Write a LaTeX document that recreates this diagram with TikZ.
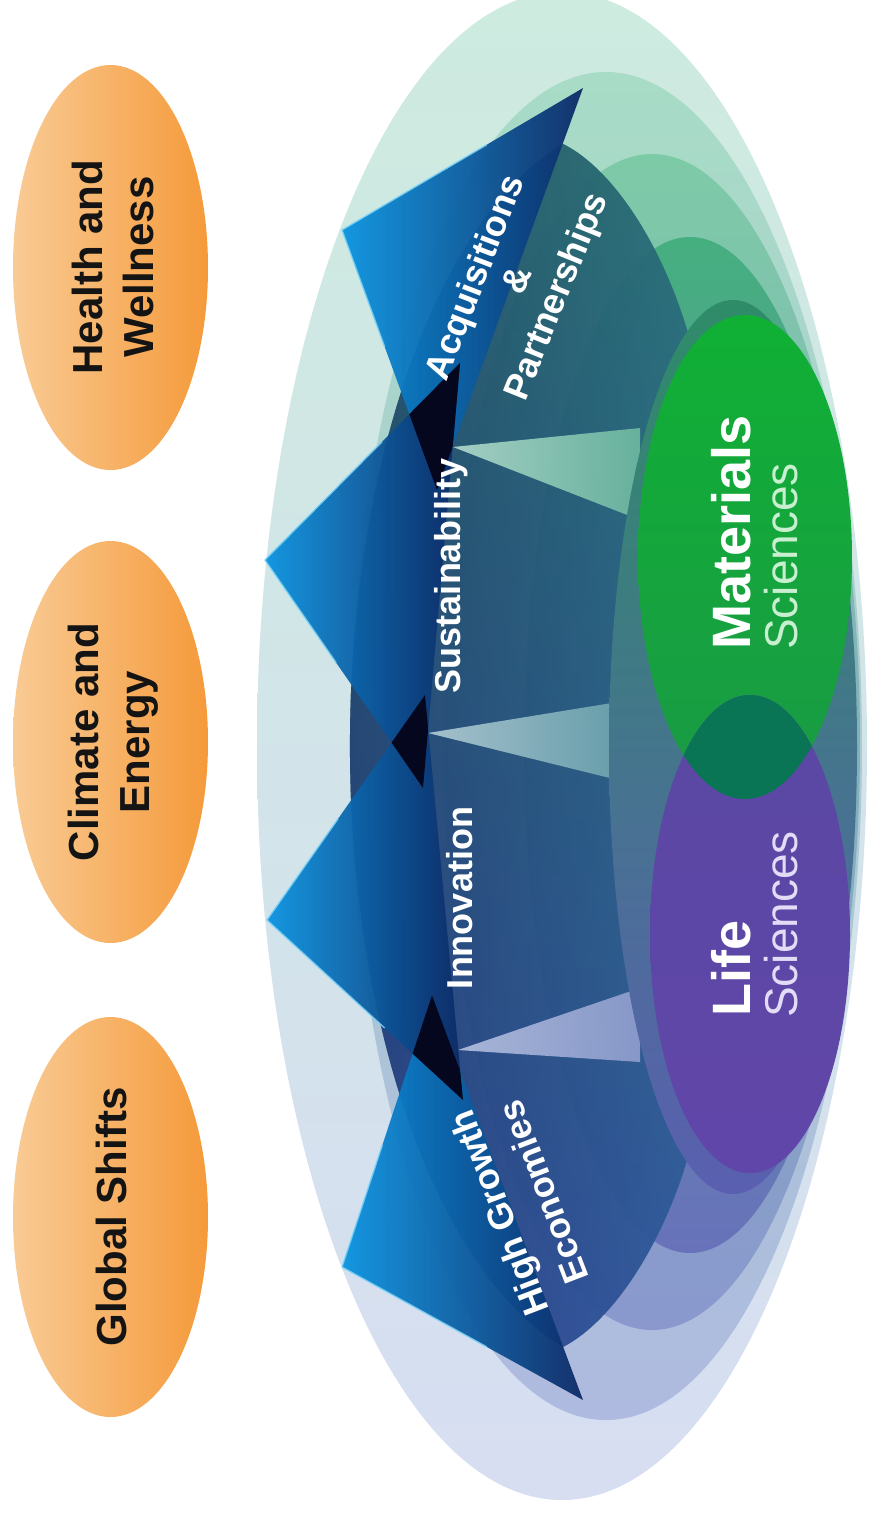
\documentclass[tikz,border=0pt]{standalone}
\usepackage{fontspec}
\setmainfont{Liberation Sans}
\usetikzlibrary{calc}
\definecolor{orL}{HTML}{F9CB95}
\definecolor{orR}{HTML}{F59A3A}
\definecolor{rAt}{HTML}{CDEBDF}\definecolor{rAm}{HTML}{D1E4E7}\definecolor{rAb}{HTML}{D7DEF2}
\definecolor{rBt}{HTML}{A8DCC6}\definecolor{rBm}{HTML}{A9CBD2}\definecolor{rBb}{HTML}{AEBADF}
\definecolor{rCt}{HTML}{7DCAA7}\definecolor{rCm}{HTML}{5E9CA6}\definecolor{rCb}{HTML}{8A98CE}
\definecolor{rDt}{HTML}{46AF80}\definecolor{rDm}{HTML}{307C86}\definecolor{rDb}{HTML}{6872BA}
\definecolor{rEt}{HTML}{2E8C68}\definecolor{rEm}{HTML}{1F6E6C}\definecolor{rEb}{HTML}{5A5FB0}
\definecolor{bandL}{HTML}{0A1950}\definecolor{bandM}{HTML}{13306E}\definecolor{bandR}{HTML}{2E7391}
\definecolor{tintT}{HTML}{2C7D66}\definecolor{tintM}{HTML}{102C68}\definecolor{tintB}{HTML}{3A4CB6}
\definecolor{headL}{HTML}{0A93E0}\definecolor{headM}{HTML}{1456A8}\definecolor{headR}{HTML}{0D2A66}
\definecolor{hilite}{HTML}{7AD3F7}
\definecolor{notchc}{HTML}{05071F}
\definecolor{matT}{HTML}{10B035}\definecolor{matB}{HTML}{1A9A45}
\definecolor{lifeT}{HTML}{5A48A4}\definecolor{lifeB}{HTML}{6046A8}
\definecolor{lensc}{HTML}{0A7555}
\definecolor{matsci}{HTML}{C8F0D0}
\definecolor{lifesci}{HTML}{E2DCF6}
\newcommand\shaftpath{(563,1347) arc[start angle=105.4, end angle=254.6, x radius=290, y radius=624]
  .. controls (615,170) and (665,250) .. (690,340) -- (760,420) -- (760,1070) -- (690,1150)
  .. controls (665,1240) and (615,1320) .. (563,1347) -- cycle}
\tikzset{
  oval/.style={left color=orL, right color=orR},
  olbl/.style={text=black!92, font=\bfseries\fontsize{42}{51}\selectfont, align=center, inner sep=0pt, rotate=90},
  albl/.style={text=white, font=\bfseries\fontsize{36}{42}\selectfont, inner sep=0pt},
  headshade/.style={left color=headL, middle color=headM, right color=headR, opacity=.95},
  hl/.style={draw=hilite, line width=1.4pt, opacity=.85, line join=round},
  beam/.style={opacity=.85},
  bigsci/.style={text=white, font=\bfseries\fontsize{54}{60}\selectfont, inner sep=0pt, rotate=90, anchor=base west},
  smallsci/.style={font=\fontsize{46}{52}\selectfont, inner sep=0pt, rotate=90, anchor=base west},
}
\begin{document}
\begin{tikzpicture}[x=1pt,y=-1pt]
\useasboundingbox (0,0) rectangle (870,1515);
\fill[white] (0,0) rectangle (870,1515);

% orange ovals
\shade[oval] (110.5,267.5) ellipse [x radius=97.5, y radius=202.5];
\shade[oval] (110.5,742) ellipse [x radius=97.5, y radius=201];
\shade[oval] (110.5,1217) ellipse [x radius=97.5, y radius=200];
\node[olbl] (hw) at (113,267) {Health and\\Wellness};
\node[olbl] (ce) at (113,742) {Climate and\\Energy};
\node[olbl] (gs) at (111,1217) {Global Shifts};

% nested rings
\shade[top color=rAt, middle color=rAm, bottom color=rAb] (562,746) ellipse [x radius=305, y radius=754];
\shade[top color=rBt, middle color=rBm, bottom color=rBb] (606,746) ellipse [x radius=256, y radius=674];
\shade[top color=rCt, middle color=rCm, bottom color=rCb] (652,742) ellipse [x radius=208, y radius=588];
\shade[top color=rDt, middle color=rDm, bottom color=rDb] (690,745) ellipse [x radius=166, y radius=508];

% arrow shafts (one band, shaded, with a tint layer)
\shade[left color=bandL, middle color=bandM, right color=bandR, opacity=.9] \shaftpath;
\shade[top color=tintT, middle color=tintM, bottom color=tintB, opacity=.45] \shaftpath;

% light gaps between the shafts
\shade[beam, left color=rBt!80!white, right color=rCt!85!rDm] (453,447) -- (640,428) -- (640,520) -- cycle;
\shade[beam, left color=rBm!80!white, right color=rCm!90!white] (428,733) -- (630,700) -- (630,783) -- cycle;
\shade[beam, left color=rBb!80!white, right color=rCb!90!white] (458,1050) -- (640,988) -- (640,1062) -- cycle;

% core ring
\shade[top color=rEt, middle color=rEm, bottom color=rEb] (733,747) ellipse [x radius=124, y radius=447];

% sciences
\shade[top color=matT, bottom color=matB] (745,557) ellipse [x radius=107, y radius=242];
\shade[top color=lifeT, bottom color=lifeB] (750,934) ellipse [x radius=100, y radius=239];
\begin{scope}
  \clip (745,557) ellipse [x radius=107, y radius=242];
  \fill[lensc] (750,934) ellipse [x radius=100, y radius=239];
\end{scope}

% arrow heads
\coordinate (t4) at (342,230);  \coordinate (b4a) at (583,88);  \coordinate (b4b) at (437,490);
\coordinate (t3) at (265,560);  \coordinate (b3a) at (460,363); \coordinate (b3b) at (423,788);
\coordinate (t2) at (267,920);  \coordinate (b2a) at (425,695); \coordinate (b2b) at (463,1100);
\coordinate (t1) at (342,1267); \coordinate (b1a) at (432,995); \coordinate (b1b) at (583,1400);
\shade[headshade] (t4) -- (b4a) -- (b4b) -- cycle;
\shade[headshade] (t3) -- (b3a) -- (b3b) -- cycle;
\shade[headshade] (t2) -- (b2a) -- (b2b) -- cycle;
\shade[headshade] (t1) -- (b1a) -- (b1b) -- cycle;
\begin{scope}\clip (t4) -- (b4a) -- (b4b) -- cycle; \fill[notchc] (t3) -- (b3a) -- (b3b) -- cycle;\end{scope}
\begin{scope}\clip (t3) -- (b3a) -- (b3b) -- cycle; \fill[notchc] (t2) -- (b2a) -- (b2b) -- cycle;\end{scope}
\begin{scope}\clip (t2) -- (b2a) -- (b2b) -- cycle; \fill[notchc] (t1) -- (b1a) -- (b1b) -- cycle;\end{scope}
\draw[hl] ($(t4)!0.6!(b4a)$) -- (t4) -- ($(t4)!0.45!(b4b)$);
\draw[hl] ($(t3)!0.6!(b3a)$) -- (t3) -- ($(t3)!0.45!(b3b)$);
\draw[hl] ($(t2)!0.45!(b2a)$) -- (t2) -- ($(t2)!0.6!(b2b)$);
\draw[hl] ($(t1)!0.45!(b1a)$) -- (t1) -- ($(t1)!0.6!(b1b)$);

% arrow labels
\node[albl, rotate=69] (acq) at (477,278) {Acquisitions};
\node[albl, rotate=67] (amp) at (516,280) {\&};
\node[albl, rotate=68] (par) at (558,297) {Partnerships};
\node[albl, rotate=90] (sus) at (451,576) {Sustainability};
\node[albl, rotate=90] (inn) at (460,898) {Innovation};
\node[albl, rotate=111] (hig) at (502,1212) {High Growth};
\node[albl, rotate=111] (eco) at (543,1192) {Economies};

% science labels
\node[bigsci] (mat) at (750,650) {Materials};
\node[smallsci, text=matsci] (msc) at (797,650) {Sciences};
\node[bigsci] (lif) at (750,1017) {Life};
\node[smallsci, text=lifesci] (lsc) at (797,1018) {Sciences};
\end{tikzpicture}
\end{document}
